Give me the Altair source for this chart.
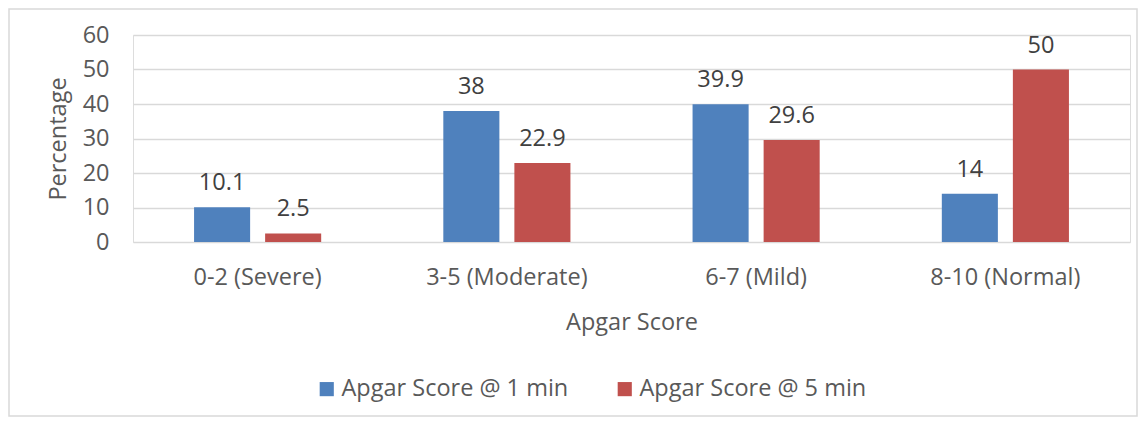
import altair as alt
import pandas as pd

categories = ["0-2 (Severe)", "3-5 (Moderate)", "6-7 (Mild)", "8-10 (Normal)"]
series = ["Apgar Score @ 1 min", "Apgar Score @ 5 min"]
one_min = [10.1, 38, 39.9, 14]
five_min = [2.5, 22.9, 29.6, 50]
colors = ["#4F81BD", "#C0504D"]
labels = ["10.1", "38", "39.9", "14", "2.5", "22.9", "29.6", "50"]
y_ticks = [0, 10, 20, 30, 40, 50, 60]

rows = []
for i, c in enumerate(categories):
    rows.append({"cat": c, "series": series[0], "value": one_min[i], "label": labels[i]})
for i, c in enumerate(categories):
    rows.append({"cat": c, "series": series[1], "value": five_min[i], "label": labels[4 + i]})
df = pd.DataFrame(rows)

FONT = "Open Sans"
GREY = "#595959"
FS = 23.5

x = alt.X("cat:N", sort=categories, title="Apgar Score",
          scale=alt.Scale(paddingInner=0.49, paddingOuter=0.245),
          axis=alt.Axis(labelAngle=0, domain=False, ticks=False, labelPadding=23,
                        titlePadding=22, labelFontSize=FS, titleFontSize=FS,
                        labelColor=GREY, titleColor=GREY, labelFont=FONT, titleFont=FONT,
                        titleFontWeight="normal"))
xo = alt.XOffset("series:N", sort=series, scale=alt.Scale(paddingInner=0.211, paddingOuter=0))
y = alt.Y("value:Q", title="Percentage",
          scale=alt.Scale(domain=[0, 60]),
          axis=alt.Axis(values=y_ticks, domain=False, ticks=False,
                        labelOverlap=False, labelBound=False,
                        labelPadding=24, titlePadding=12, labelFontSize=FS, titleFontSize=FS,
                        labelColor=GREY, titleColor=GREY, labelFont=FONT, titleFont=FONT,
                        titleFontWeight="normal", gridColor="#D9D9D9", gridWidth=1.5))
color = alt.Color("series:N", sort=series, scale=alt.Scale(domain=series, range=colors),
                  legend=alt.Legend(title=None, orient="none", legendX=182, legendY=342,
                                    direction="horizontal", symbolType="square", symbolSize=200,
                                    symbolStrokeWidth=0, labelFontSize=FS, labelFont=FONT,
                                    labelColor=GREY, columnPadding=44, labelOffset=3,
                                    labelLimit=400))

base = alt.Chart(df)
bars = base.mark_bar().encode(x=x, xOffset=xo, y=y, color=color)
text = base.mark_text(baseline="bottom", dy=-12, fontSize=FS, font=FONT, color="#404040").encode(
    x=x, xOffset=xo, y=y, text="label:N")

border = alt.Chart(pd.DataFrame({"a": [0]})).mark_rect(
    fill=None, stroke="#D9D9D9", strokeWidth=1.5, clip=False).encode(
    x=alt.value(-124), x2=alt.value(1004), y=alt.value(-26), y2=alt.value(381))

chart = alt.layer(border, bars, text).properties(
    width=997, height=207,
    padding={"left": 125, "top": 27, "right": 8, "bottom": 176},
    autosize=alt.AutoSizeParams(type="none"),
).configure_view(stroke=None).configure(background="white")

chart.save("out.html", embed_options={"renderer": "svg", "actions": False})
